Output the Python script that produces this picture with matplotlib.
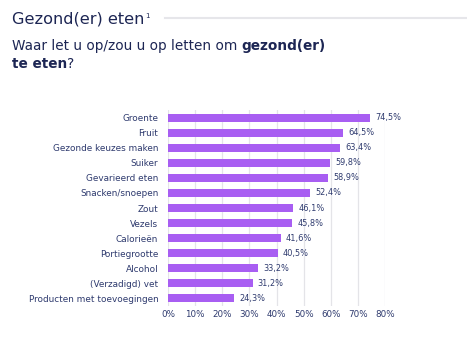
import matplotlib
matplotlib.use("Agg")
import matplotlib.pyplot as plt
from matplotlib.lines import Line2D

categories = [
    "Groente", "Fruit", "Gezonde keuzes maken", "Suiker", "Gevarieerd eten",
    "Snacken/snoepen", "Zout", "Vezels", "Calorieën", "Portiegrootte",
    "Alcohol", "(Verzadigd) vet", "Producten met toevoegingen",
]
values = [74.5, 64.5, 63.4, 59.8, 58.9, 52.4, 46.1, 45.8, 41.6, 40.5, 33.2, 31.2, 24.3]
xticks = [0, 10, 20, 30, 40, 50, 60, 70, 80]

BAR = "#a85ef2"
NAVY = "#1d2654"
LABEL = "#2e3a6e"

plt.rcParams["font.family"] = ["DejaVu Sans"]

W, H = 467, 339
fig = plt.figure(figsize=(W / 100, H / 100), dpi=100)
ax = fig.add_axes([168 / W, 1 - 306 / H, 217 / W, 196 / H])

y = list(range(len(categories)))
ax.barh(y, values, height=0.52, color=BAR, zorder=2)
for yi, v in zip(y, values):
    ax.text(v + 1.9, yi, f"{v:.1f}%".replace(".", ","), va="center", ha="left",
            fontsize=5.9, color=LABEL, clip_on=False)

ax.set_xlim(0, 80)
ax.set_ylim(len(categories) - 0.47, -0.53)
ax.set_yticks(y)
ax.set_yticklabels(categories, fontsize=6.4, color=LABEL)
ax.set_xticks(xticks)
ax.set_xticklabels([f"{t}%" for t in xticks], fontsize=6.3, color=LABEL)
ax.tick_params(length=0, pad=7)
ax.tick_params(axis="x", pad=3)
ax.grid(axis="x", color="#e4e4e8", linewidth=0.9, zorder=0)
for s in ax.spines.values():
    s.set_visible(False)

# header
fig.canvas.draw()
r = fig.canvas.get_renderer()
t0 = fig.text(12 / W, 1 - 23 / H, "Gezond(er) eten", fontsize=11.6, color=NAVY, va="baseline")
x0 = t0.get_window_extent(r).x1 / W
fig.text(x0 + 1 / W, 1 - 18 / H, "1", fontsize=5, color=NAVY, va="baseline")
fig.add_artist(Line2D([165 / W, 1], [1 - 18 / H, 1 - 18 / H], color="#e6e6ea", linewidth=1.5))

fs = 9.8
t1 = fig.text(12 / W, 1 - 50 / H, "Waar let u op/zou u op letten om ", fontsize=fs,
              color=NAVY, va="baseline")
x1 = t1.get_window_extent(r).x1 / W
fig.text(x1, 1 - 50 / H, "gezond(er)", fontsize=fs, color=NAVY, va="baseline", weight="bold")
t2 = fig.text(12 / W, 1 - 68 / H, "te eten", fontsize=fs, color=NAVY, va="baseline", weight="bold")
x2 = t2.get_window_extent(r).x1 / W
fig.text(x2, 1 - 68 / H, "?", fontsize=fs, color=NAVY, va="baseline")

fig.savefig("out.png", dpi=100)
